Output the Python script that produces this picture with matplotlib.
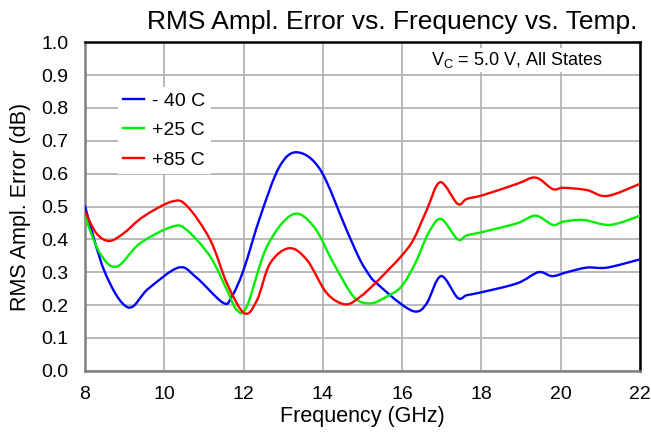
import matplotlib
matplotlib.use("Agg")
import matplotlib.pyplot as plt
import numpy as np
from matplotlib.path import Path
from matplotlib.patches import PathPatch
from matplotlib.lines import Line2D

plt.rcParams['font.family'] = ['Liberation Sans', 'DejaVu Sans']

# ---- data ----
freq_m40 = [8.0, 8.5, 9.08, 9.6, 10.36, 10.8, 11.48, 11.7, 12.0, 12.42, 12.9, 13.35, 13.94, 14.6, 14.94,
            15.2, 15.36, 15.95, 16.35, 16.62, 16.98, 17.4, 17.63, 17.97, 18.9, 19.44, 19.78, 20.16,
            20.66, 21.17, 22.0]
rms_m40 = [0.50, 0.30, 0.193, 0.25, 0.314, 0.285, 0.207, 0.225, 0.307, 0.469, 0.62, 0.665, 0.611, 0.428, 0.337,
           0.286, 0.266, 0.205, 0.180, 0.205, 0.288, 0.222, 0.230, 0.238, 0.266, 0.300, 0.288, 0.300,
           0.314, 0.314, 0.339]

freq_p25 = [8.0, 8.38, 8.8, 9.39, 10.21, 10.57, 11.16, 11.58, 11.83, 12.08, 12.59, 13.24, 13.77, 14.27,
            14.78, 15.2, 15.6, 15.98, 16.33, 16.66, 16.98, 17.4, 17.63, 18.05, 18.9, 19.37, 19.8,
            20.07, 20.58, 21.25, 22.0]
rms_p25 = [0.469, 0.357, 0.317, 0.388, 0.439, 0.428, 0.347, 0.246, 0.185, 0.195, 0.378, 0.476, 0.439, 0.327,
           0.225, 0.205, 0.225, 0.256, 0.327, 0.418, 0.462, 0.400, 0.412, 0.423, 0.449, 0.472, 0.444,
           0.454, 0.459, 0.444, 0.472]

freq_p85 = [8.0, 8.29, 8.61, 8.97, 9.47, 10.19, 10.57, 11.16, 11.58, 12.02, 12.34, 12.67, 13.15, 13.6,
            14.1, 14.57, 14.94, 15.32, 15.69, 15.98, 16.28, 16.62, 16.96, 17.4, 17.63, 18.05, 18.9,
            19.37, 19.8, 20.07, 20.66, 21.17, 22.0]
rms_p85 = [0.484, 0.418, 0.395, 0.418, 0.469, 0.515, 0.502, 0.398, 0.266, 0.175, 0.215, 0.327, 0.373, 0.337,
           0.236, 0.202, 0.225, 0.266, 0.312, 0.349, 0.398, 0.489, 0.574, 0.508, 0.523, 0.535, 0.569,
           0.588, 0.553, 0.557, 0.550, 0.532, 0.569]

series_labels = ['- 40 C', '+25 C', '+85 C']
series_colors = ['#0000ff', '#00ee00', '#ff0000']
x_ticks = [8, 10, 12, 14, 16, 18, 20, 22]
y_ticks = [0.0, 0.1, 0.2, 0.3, 0.4, 0.5, 0.6, 0.7, 0.8, 0.9, 1.0]


def smooth_path(xs, ys):
    """Excel-style smoothed line: Catmull-Rom converted to cubic Bezier segments."""
    p = np.column_stack([xs, ys]).astype(float)
    n = len(p)
    verts = [p[0]]
    codes = [Path.MOVETO]
    for i in range(n - 1):
        p0 = p[i - 1] if i > 0 else p[i]
        p1 = p[i]
        p2 = p[i + 1]
        p3 = p[i + 2] if i + 2 < n else p[i + 1]
        c1 = p1 + (p2 - p0) / 6.0
        c2 = p2 - (p3 - p1) / 6.0
        verts += [c1, c2, p2]
        codes += [Path.CURVE4] * 3
    return Path(verts, codes)


fig = plt.figure(figsize=(6.51, 4.33), dpi=100)
ax = fig.add_axes([85 / 651, 1 - 370.7 / 433, (640 - 85) / 651, (370.7 - 42.3) / 433])

ax.set_xlim(8, 22)
ax.set_ylim(0, 1.0)
ax.set_xticks(x_ticks)
ax.set_yticks(y_ticks)
ax.set_xticklabels([str(t) for t in x_ticks])
ax.set_yticklabels([f"{t:.1f}" for t in y_ticks])
ax.tick_params(length=0, labelsize=14, colors='black')
ax.tick_params(axis='y', pad=12)
ax.tick_params(axis='x', pad=11)
ax.grid(True, color='#b4b4b4', linewidth=1.3)
ax.set_axisbelow(True)

for side in ['top', 'right']:
    ax.spines[side].set_color('black')
    ax.spines[side].set_linewidth(1.8)
for side in ['left', 'bottom']:
    ax.spines[side].set_color('#808080')
    ax.spines[side].set_linewidth(1.8)

data = [(freq_m40, rms_m40), (freq_p25, rms_p25), (freq_p85, rms_p85)]
handles = []
for (xs, ys), c, lab in zip(data, series_colors, series_labels):
    patch = PathPatch(smooth_path(xs, ys), facecolor='none', edgecolor=c, linewidth=1.7,
                      transform=ax.transData, zorder=3, capstyle='round', joinstyle='round')
    ax.add_patch(patch)
    handles.append(Line2D([], [], color=c, linewidth=1.7, label=lab))

leg = ax.legend(handles=handles, loc='upper left', bbox_to_anchor=(0.0595, 0.864), frameon=True,
                fancybox=False, framealpha=1, facecolor='white', edgecolor='none',
                fontsize=14, handlelength=1.05, handletextpad=0.43, labelspacing=0.6,
                borderpad=0.28, borderaxespad=0)
leg.set_zorder(5)

ax.text(0.933, 0.946, r'V$_\mathregular{C}$ = 5.0 V, All States', transform=ax.transAxes,
        ha='right', va='center', fontsize=13,
        bbox=dict(facecolor='white', edgecolor='none', pad=1.5), zorder=6)

ax.set_xlabel('Frequency (GHz)', fontsize=15.5, labelpad=2)
ax.set_ylabel('RMS Ampl. Error (dB)', fontsize=15.5, labelpad=7)

fig.text(637 / 651, 1 - 29.5 / 433, 'RMS Ampl. Error vs. Frequency vs. Temp.', ha='right',
         va='baseline', fontsize=19)

fig.savefig('out.png', dpi=100)
